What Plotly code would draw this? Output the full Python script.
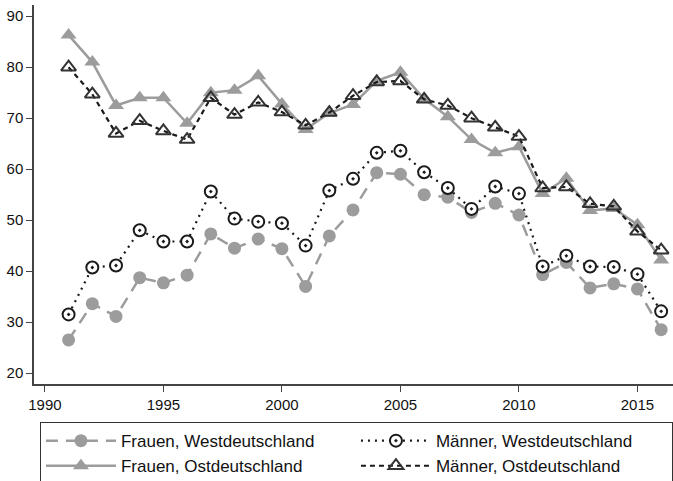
import plotly.graph_objects as go

years = list(range(1991, 2017))

frauen_west = [26.5, 33.6, 31.1, 38.7, 37.7, 39.2, 47.3, 44.5, 46.3, 44.4, 37.0, 46.9, 52.0,
               59.3, 59.0, 55.0, 54.5, 51.5, 53.3, 51.0, 39.3, 41.7, 36.7, 37.5, 36.5, 28.5]
maenner_west = [31.5, 40.7, 41.1, 48.0, 45.8, 45.8, 55.6, 50.3, 49.7, 49.4, 45.0, 55.8, 58.1,
                63.2, 63.6, 59.4, 56.3, 52.2, 56.6, 55.2, 40.9, 43.0, 40.9, 40.8, 39.4, 32.1]
frauen_ost = [86.3, 81.0, 72.5, 74.0, 74.0, 69.0, 75.0, 75.5, 78.3, 72.8, 67.8, 71.0, 72.7,
              77.3, 79.0, 73.8, 70.3, 65.8, 63.2, 64.4, 55.2, 58.2, 51.9, 52.3, 49.1, 42.2]
maenner_ost = [80.0, 74.7, 67.0, 69.5, 67.5, 65.8, 74.0, 70.7, 73.1, 71.2, 68.6, 71.1, 74.4,
               77.1, 77.3, 73.7, 72.5, 70.0, 68.2, 66.4, 56.3, 56.5, 53.2, 52.7, 47.8, 44.1]

x_ticks = [1990, 1995, 2000, 2005, 2010, 2015]
y_ticks = [20, 30, 40, 50, 60, 70, 80, 90]

GRAY = "#9c9c9c"
DARK = "#1a1a1a"

fig = go.Figure()
fig.add_trace(go.Scatter(
    x=years, y=frauen_west, name="Frauen, Westdeutschland", mode="lines+markers",
    line=dict(color=GRAY, width=2.5, dash="12px,8px"),
    marker=dict(symbol="circle", size=13, color=GRAY)))
fig.add_trace(go.Scatter(
    x=years, y=maenner_west, name="Männer, Westdeutschland", mode="lines+markers",
    line=dict(color=DARK, width=2.2, dash="2px,5px"),
    marker=dict(symbol="circle-dot", size=12, color="white", line=dict(color=DARK, width=2))))
fig.add_trace(go.Scatter(
    x=years, y=frauen_ost, name="Frauen, Ostdeutschland", mode="lines+markers",
    line=dict(color=GRAY, width=2.5),
    marker=dict(symbol="triangle-up", size=14, color=GRAY)))
fig.add_trace(go.Scatter(
    x=years, y=maenner_ost, name="Männer, Ostdeutschland", mode="lines+markers",
    line=dict(color=DARK, width=2.2, dash="5px,4px"),
    marker=dict(symbol="triangle-up-open", size=13, color="#333333", line=dict(width=2))))

axis_common = dict(showgrid=False, zeroline=False, showline=True, linecolor="#444444",
                   linewidth=1.5, ticks="outside", ticklen=6, tickcolor="#444444",
                   tickwidth=1.2, tickfont=dict(family="Liberation Sans, Arial", size=15, color="#111111"))

fig.update_xaxes(range=[1989.54, 2016.5], tickvals=x_ticks, **axis_common)
fig.update_yaxes(range=[17.85, 92.2], tickvals=y_ticks, **axis_common)

fig.update_layout(
    width=673, height=481,
    margin=dict(l=34, r=0, t=5, b=97, autoexpand=False),
    plot_bgcolor="white", paper_bgcolor="white",
    font=dict(family="Liberation Sans, Arial", color="#111111"),
    legend=dict(orientation="h", x=0.009, y=-0.1, xanchor="left", yanchor="top",
                bordercolor="#333333", borderwidth=1.2, entrywidth=230, itemwidth=70,
                font=dict(size=17, family="Liberation Sans, Arial"), traceorder="normal",
                tracegroupgap=0),
)

fig.write_html("out.html", config={"displayModeBar": False},
               post_script="document.body.style.margin='0px';")
